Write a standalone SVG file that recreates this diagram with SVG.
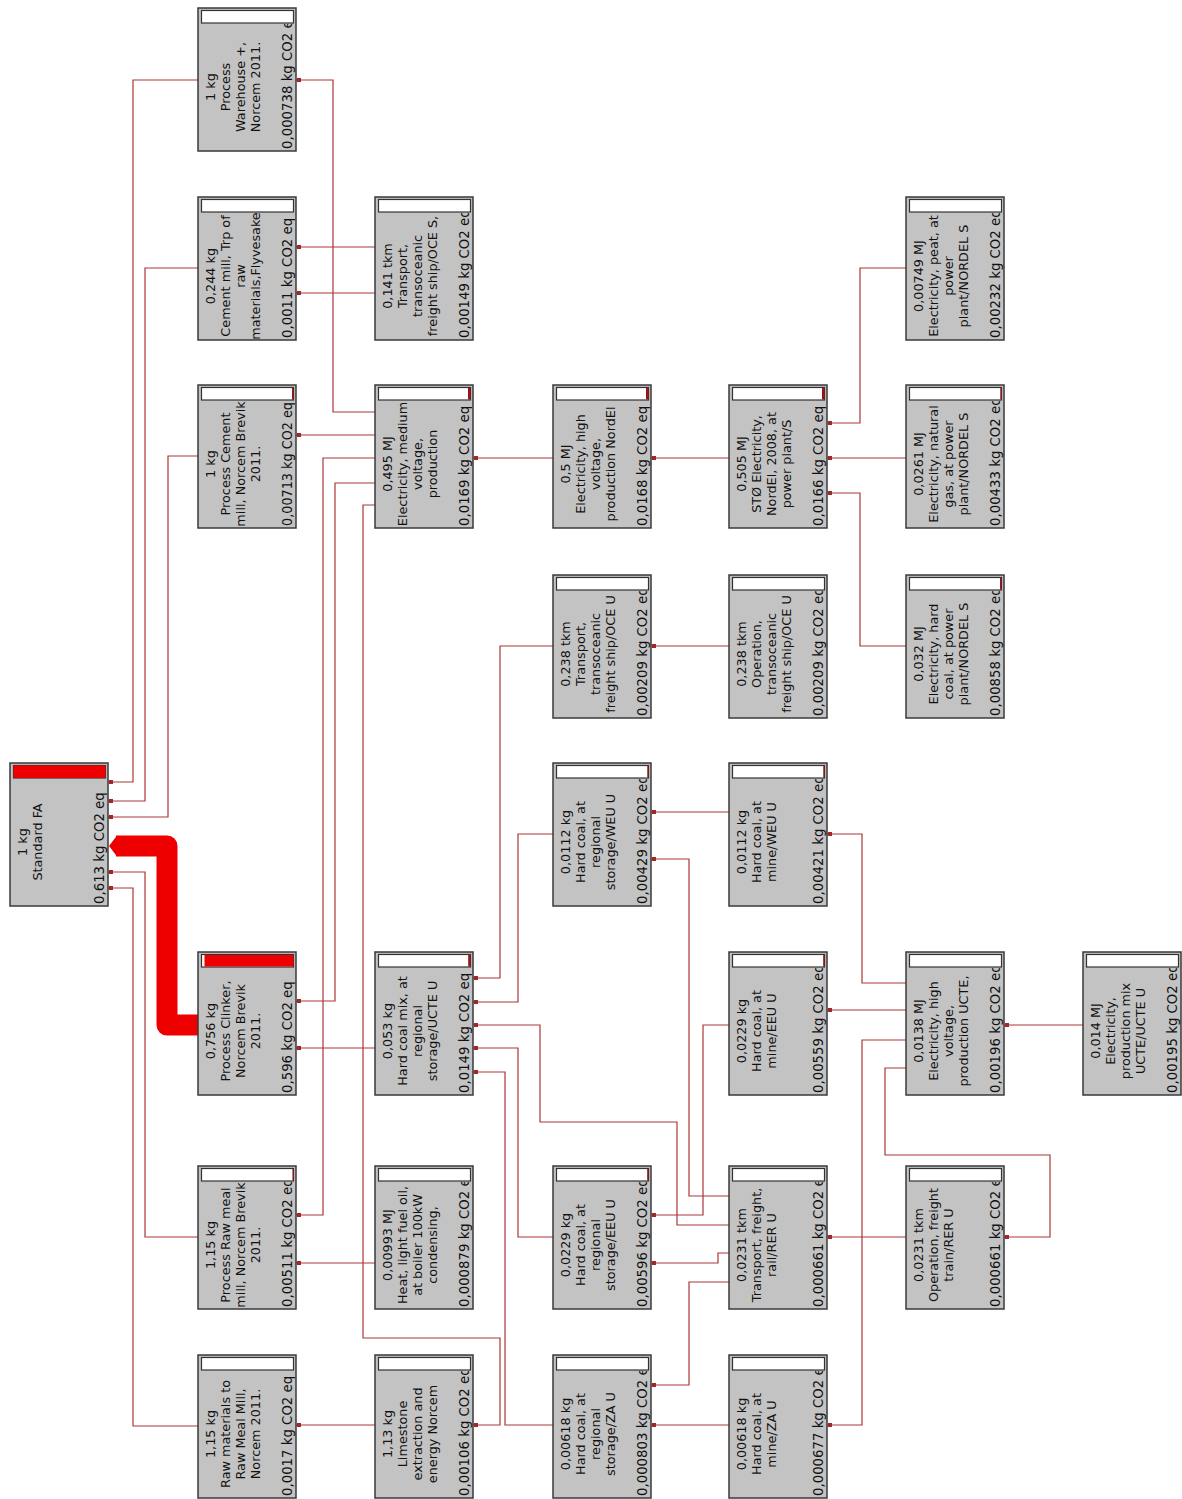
<svg xmlns="http://www.w3.org/2000/svg" width="1182" height="1499" viewBox="0 0 1182 1499">
<style>
.box{fill:#c3c3c3;stroke:#3a3a3a;stroke-width:1.5}
.bar{fill:#fff;stroke:#333;stroke-width:1.2}
.red{fill:#ee0000}
.dr{fill:#9a1515}
.t{font-family:"DejaVu Sans",Verdana,sans-serif;font-size:12.8px;fill:#111;text-anchor:middle}
.l{font-family:"DejaVu Sans",Verdana,sans-serif;font-size:13.3px;fill:#111;text-anchor:start}
.c{fill:none;stroke:#ab3636;stroke-width:1.2;marker-end:url(#dot)}
</style>
<defs>
<clipPath id="clip" clipPathUnits="userSpaceOnUse"><rect x="0" y="16" width="98" height="127"/></clipPath>
<marker id="dot" markerUnits="userSpaceOnUse" markerWidth="4" markerHeight="4" viewBox="0 0 4 4" refX="5" refY="2" orient="auto"><rect width="4" height="4" fill="#a02828"/></marker>
</defs>
<rect width="1182" height="1499" fill="#fff"/>

<g id="connectors">
<path class="c" d="M198 80H133V782H108"/>
<path class="c" d="M198 268H145V801H108"/>
<path class="c" d="M198 456H168V817H108"/>
<path class="c" d="M198 1237H145V872H108"/>
<path class="c" d="M198 1426H133V888H108"/>
<path class="c" d="M375 412H333V80H296"/>
<path class="c" d="M375 247H296"/>
<path class="c" d="M375 293H296"/>
<path class="c" d="M375 435H296"/>
<path class="c" d="M375 458H323V1215H296"/>
<path class="c" d="M375 483H335V1001H296"/>
<path class="c" d="M375 505H363V1338H500V1425H473"/>
<path class="c" d="M375 1048H296"/>
<path class="c" d="M375 1263H296"/>
<path class="c" d="M375 1425H296"/>
<path class="c" d="M553 458H473"/>
<path class="c" d="M729 458H651"/>
<path class="c" d="M906 268H860V423H827"/>
<path class="c" d="M906 458H827"/>
<path class="c" d="M906 646H860V493H827"/>
<path class="c" d="M553 646H500V978H473"/>
<path class="c" d="M729 646H651"/>
<path class="c" d="M553 834H518V1002H473"/>
<path class="c" d="M729 812H651"/>
<path class="c" d="M729 1196H689V859H651"/>
<path class="c" d="M729 1025H703V1215H651"/>
<path class="c" d="M729 1253H718V1263H651"/>
<path class="c" d="M729 1225H677V1122H540V1025H473"/>
<path class="c" d="M553 1237H518V1048H473"/>
<path class="c" d="M553 1425H505V1072H473"/>
<path class="c" d="M729 1282H689V1385H651"/>
<path class="c" d="M729 1425H651"/>
<path class="c" d="M906 983H862V834H827"/>
<path class="c" d="M906 1010H827"/>
<path class="c" d="M906 1040H862V1425H827"/>
<path class="c" d="M906 1068H885V1155H1050V1237H1004"/>
<path class="c" d="M1083 1025H1004"/>
<path class="c" d="M906 1237H827"/>
<path d="M198 1025H167V846H116" fill="none" stroke="#ee0000" stroke-width="21" stroke-linejoin="round"/>
<polygon points="109,846 117,835.5 117,856.5" fill="#ee0000"/>
</g>

<g id="n-fa" transform="translate(10,763)">
<rect class="box" width="98" height="143"/><rect class="bar" x="3.5" y="2.5" width="92" height="12.5"/><rect class="red" x="3.5" y="2.5" width="92" height="12.5"/>
<g clip-path="url(#clip)"><text class="t" transform="rotate(-90)"><tspan x="-79" y="17">1 kg</tspan><tspan x="-79" y="32">Standard FA</tspan></text><text class="l" transform="rotate(-90)" x="-141" y="94">0,613 kg CO2 eq</text></g>
</g>

<g id="n-warehouse" transform="translate(198,8)">
<rect class="box" width="98" height="143"/><rect class="bar" x="3.5" y="2.5" width="92" height="12.5"/>
<g clip-path="url(#clip)"><text class="t" transform="rotate(-90)"><tspan x="-79" y="17">1 kg</tspan><tspan x="-79" y="32">Process</tspan><tspan x="-79" y="47">Warehouse +,</tspan><tspan x="-79" y="62">Norcem 2011.</tspan></text><text class="l" transform="rotate(-90)" x="-141" y="94">0,000738 kg CO2 eq</text></g>
</g>

<g id="n-cementtrp" transform="translate(198,197)">
<rect class="box" width="98" height="143"/><rect class="bar" x="3.5" y="2.5" width="92" height="12.5"/>
<g clip-path="url(#clip)"><text class="t" transform="rotate(-90)"><tspan x="-79" y="17">0,244 kg</tspan><tspan x="-79" y="32">Cement mill, Trp of</tspan><tspan x="-79" y="47">raw</tspan><tspan x="-79" y="62">materials,Flyvesake</tspan></text><text class="l" transform="rotate(-90)" x="-141" y="94">0,0011 kg CO2 eq</text></g>
</g>

<g id="n-proccement" transform="translate(198,385)">
<rect class="box" width="98" height="143"/><rect class="bar" x="3.5" y="2.5" width="92" height="12.5"/><rect class="dr" x="94" y="3" width="1.5" height="11.5"/>
<g clip-path="url(#clip)"><text class="t" transform="rotate(-90)"><tspan x="-79" y="17">1 kg</tspan><tspan x="-79" y="32">Process Cement</tspan><tspan x="-79" y="47">mill, Norcem Brevik</tspan><tspan x="-79" y="62">2011.</tspan></text><text class="l" transform="rotate(-90)" x="-141" y="94" textLength="124" lengthAdjust="spacingAndGlyphs">0,00713 kg CO2 eq</text></g>
</g>

<g id="n-clinker" transform="translate(198,952)">
<rect class="box" width="98" height="143"/><rect class="bar" x="3.5" y="2.5" width="92" height="12.5"/><rect class="red" x="6.5" y="3" width="89" height="11.5"/>
<g clip-path="url(#clip)"><text class="t" transform="rotate(-90)"><tspan x="-79" y="17">0,756 kg</tspan><tspan x="-79" y="32">Process Clinker,</tspan><tspan x="-79" y="47">Norcem Brevik</tspan><tspan x="-79" y="62">2011.</tspan></text><text class="l" transform="rotate(-90)" x="-141" y="94">0,596 kg CO2 eq</text></g>
</g>

<g id="n-rawmeal" transform="translate(198,1166)">
<rect class="box" width="98" height="143"/><rect class="bar" x="3.5" y="2.5" width="92" height="12.5"/><rect class="dr" x="94.5" y="3" width="1" height="11.5"/>
<g clip-path="url(#clip)"><text class="t" transform="rotate(-90)"><tspan x="-79" y="17">1,15 kg</tspan><tspan x="-79" y="32">Process Raw meal</tspan><tspan x="-79" y="47">mill, Norcem Brevik</tspan><tspan x="-79" y="62">2011.</tspan></text><text class="l" transform="rotate(-90)" x="-141" y="94">0,00511 kg CO2 eq</text></g>
</g>

<g id="n-rawmat" transform="translate(198,1355)">
<rect class="box" width="98" height="143"/><rect class="bar" x="3.5" y="2.5" width="92" height="12.5"/>
<g clip-path="url(#clip)"><text class="t" transform="rotate(-90)"><tspan x="-79" y="17">1,15 kg</tspan><tspan x="-79" y="32">Raw materials to</tspan><tspan x="-79" y="47">Raw Meal Mill,</tspan><tspan x="-79" y="62">Norcem 2011.</tspan></text><text class="l" transform="rotate(-90)" x="-141" y="94">0,0017 kg CO2 eq</text></g>
</g>

<g id="n-transpoces" transform="translate(375,197)">
<rect class="box" width="98" height="143"/><rect class="bar" x="3.5" y="2.5" width="92" height="12.5"/>
<g clip-path="url(#clip)"><text class="t" transform="rotate(-90)"><tspan x="-79" y="17">0,141 tkm</tspan><tspan x="-79" y="32">Transport,</tspan><tspan x="-79" y="47">transoceanic</tspan><tspan x="-79" y="62">freight ship/OCE S,</tspan></text><text class="l" transform="rotate(-90)" x="-141" y="94">0,00149 kg CO2 eq</text></g>
</g>

<g id="n-elecmed" transform="translate(375,385)">
<rect class="box" width="98" height="143"/><rect class="bar" x="3.5" y="2.5" width="92" height="12.5"/><rect class="dr" x="93" y="3" width="2.6" height="11.5"/>
<g clip-path="url(#clip)"><text class="t" transform="rotate(-90)"><tspan x="-79" y="17">0,495 MJ</tspan><tspan x="-79" y="32">Electricity, medium</tspan><tspan x="-79" y="47">voltage,</tspan><tspan x="-79" y="62">production</tspan></text><text class="l" transform="rotate(-90)" x="-141" y="94">0,0169 kg CO2 eq</text></g>
</g>

<g id="n-hcmix" transform="translate(375,952)">
<rect class="box" width="98" height="143"/><rect class="bar" x="3.5" y="2.5" width="92" height="12.5"/><rect class="dr" x="93.2" y="3" width="2.3" height="11.5"/>
<g clip-path="url(#clip)"><text class="t" transform="rotate(-90)"><tspan x="-79" y="17">0,053 kg</tspan><tspan x="-79" y="32">Hard coal mix, at</tspan><tspan x="-79" y="47">regional</tspan><tspan x="-79" y="62">storage/UCTE U</tspan></text><text class="l" transform="rotate(-90)" x="-141" y="94">0,0149 kg CO2 eq</text></g>
</g>

<g id="n-heat" transform="translate(375,1166)">
<rect class="box" width="98" height="143"/><rect class="bar" x="3.5" y="2.5" width="92" height="12.5"/>
<g clip-path="url(#clip)"><text class="t" transform="rotate(-90)"><tspan x="-79" y="17">0,00993 MJ</tspan><tspan x="-79" y="32">Heat, light fuel oil,</tspan><tspan x="-79" y="47">at boiler 100kW</tspan><tspan x="-79" y="62">condensing,</tspan></text><text class="l" transform="rotate(-90)" x="-141" y="94">0,000879 kg CO2 eq</text></g>
</g>

<g id="n-limestone" transform="translate(375,1355)">
<rect class="box" width="98" height="143"/><rect class="bar" x="3.5" y="2.5" width="92" height="12.5"/>
<g clip-path="url(#clip)"><text class="t" transform="rotate(-90)"><tspan x="-79" y="17">1,13 kg</tspan><tspan x="-79" y="32">Limestone</tspan><tspan x="-79" y="47">extraction and</tspan><tspan x="-79" y="62">energy Norcem</tspan></text><text class="l" transform="rotate(-90)" x="-141" y="94">0,00106 kg CO2 eq</text></g>
</g>

<g id="n-elechvnordel" transform="translate(553,385)">
<rect class="box" width="98" height="143"/><rect class="bar" x="3.5" y="2.5" width="92" height="12.5"/><rect class="dr" x="93" y="3" width="2.6" height="11.5"/>
<g clip-path="url(#clip)"><text class="t" transform="rotate(-90)"><tspan x="-79" y="17">0,5 MJ</tspan><tspan x="-79" y="32">Electricity, high</tspan><tspan x="-79" y="47">voltage,</tspan><tspan x="-79" y="62">production NordEl</tspan></text><text class="l" transform="rotate(-90)" x="-141" y="94">0,0168 kg CO2 eq</text></g>
</g>

<g id="n-transpoceu" transform="translate(553,575)">
<rect class="box" width="98" height="143"/><rect class="bar" x="3.5" y="2.5" width="92" height="12.5"/>
<g clip-path="url(#clip)"><text class="t" transform="rotate(-90)"><tspan x="-79" y="17">0,238 tkm</tspan><tspan x="-79" y="32">Transport,</tspan><tspan x="-79" y="47">transoceanic</tspan><tspan x="-79" y="62">freight ship/OCE U</tspan></text><text class="l" transform="rotate(-90)" x="-141" y="94">0,00209 kg CO2 eq</text></g>
</g>

<g id="n-weureg" transform="translate(553,763)">
<rect class="box" width="98" height="143"/><rect class="bar" x="3.5" y="2.5" width="92" height="12.5"/><rect class="dr" x="94.3" y="3" width="1.2" height="11.5"/>
<g clip-path="url(#clip)"><text class="t" transform="rotate(-90)"><tspan x="-79" y="17">0,0112 kg</tspan><tspan x="-79" y="32">Hard coal, at</tspan><tspan x="-79" y="47">regional</tspan><tspan x="-79" y="62">storage/WEU U</tspan></text><text class="l" transform="rotate(-90)" x="-141" y="94">0,00429 kg CO2 eq</text></g>
</g>

<g id="n-eeureg" transform="translate(553,1166)">
<rect class="box" width="98" height="143"/><rect class="bar" x="3.5" y="2.5" width="92" height="12.5"/><rect class="dr" x="94.2" y="3" width="1.3" height="11.5"/>
<g clip-path="url(#clip)"><text class="t" transform="rotate(-90)"><tspan x="-79" y="17">0,0229 kg</tspan><tspan x="-79" y="32">Hard coal, at</tspan><tspan x="-79" y="47">regional</tspan><tspan x="-79" y="62">storage/EEU U</tspan></text><text class="l" transform="rotate(-90)" x="-141" y="94">0,00596 kg CO2 eq</text></g>
</g>

<g id="n-zareg" transform="translate(553,1355)">
<rect class="box" width="98" height="143"/><rect class="bar" x="3.5" y="2.5" width="92" height="12.5"/>
<g clip-path="url(#clip)"><text class="t" transform="rotate(-90)"><tspan x="-79" y="17">0,00618 kg</tspan><tspan x="-79" y="32">Hard coal, at</tspan><tspan x="-79" y="47">regional</tspan><tspan x="-79" y="62">storage/ZA U</tspan></text><text class="l" transform="rotate(-90)" x="-141" y="94">0,000803 kg CO2 eq</text></g>
</g>

<g id="n-sto" transform="translate(729,385)">
<rect class="box" width="98" height="143"/><rect class="bar" x="3.5" y="2.5" width="92" height="12.5"/><rect class="dr" x="93" y="3" width="2.5" height="11.5"/>
<g clip-path="url(#clip)"><text class="t" transform="rotate(-90)"><tspan x="-79" y="17">0,505 MJ</tspan><tspan x="-79" y="32">STØ Electricity,</tspan><tspan x="-79" y="47">NordEl, 2008, at</tspan><tspan x="-79" y="62">power plant/S</tspan></text><text class="l" transform="rotate(-90)" x="-141" y="94">0,0166 kg CO2 eq</text></g>
</g>

<g id="n-opoceu" transform="translate(729,575)">
<rect class="box" width="98" height="143"/><rect class="bar" x="3.5" y="2.5" width="92" height="12.5"/>
<g clip-path="url(#clip)"><text class="t" transform="rotate(-90)"><tspan x="-79" y="17">0,238 tkm</tspan><tspan x="-79" y="32">Operation,</tspan><tspan x="-79" y="47">transoceanic</tspan><tspan x="-79" y="62">freight ship/OCE U</tspan></text><text class="l" transform="rotate(-90)" x="-141" y="94">0,00209 kg CO2 eq</text></g>
</g>

<g id="n-mineweu" transform="translate(729,763)">
<rect class="box" width="98" height="143"/><rect class="bar" x="3.5" y="2.5" width="92" height="12.5"/><rect class="dr" x="94.3" y="3" width="1.2" height="11.5"/>
<g clip-path="url(#clip)"><text class="t" transform="rotate(-90)"><tspan x="-79" y="17">0,0112 kg</tspan><tspan x="-79" y="32">Hard coal, at</tspan><tspan x="-79" y="47">mine/WEU U</tspan></text><text class="l" transform="rotate(-90)" x="-141" y="94">0,00421 kg CO2 eq</text></g>
</g>

<g id="n-mineeeu" transform="translate(729,952)">
<rect class="box" width="98" height="143"/><rect class="bar" x="3.5" y="2.5" width="92" height="12.5"/><rect class="dr" x="94.2" y="3" width="1.3" height="11.5"/>
<g clip-path="url(#clip)"><text class="t" transform="rotate(-90)"><tspan x="-79" y="17">0,0229 kg</tspan><tspan x="-79" y="32">Hard coal, at</tspan><tspan x="-79" y="47">mine/EEU U</tspan></text><text class="l" transform="rotate(-90)" x="-141" y="94">0,00559 kg CO2 eq</text></g>
</g>

<g id="n-transprail" transform="translate(729,1166)">
<rect class="box" width="98" height="143"/><rect class="bar" x="3.5" y="2.5" width="92" height="12.5"/>
<g clip-path="url(#clip)"><text class="t" transform="rotate(-90)"><tspan x="-79" y="17">0,0231 tkm</tspan><tspan x="-79" y="32">Transport, freight,</tspan><tspan x="-79" y="47">rail/RER U</tspan></text><text class="l" transform="rotate(-90)" x="-141" y="94">0,000661 kg CO2 eq</text></g>
</g>

<g id="n-mineza" transform="translate(729,1355)">
<rect class="box" width="98" height="143"/><rect class="bar" x="3.5" y="2.5" width="92" height="12.5"/>
<g clip-path="url(#clip)"><text class="t" transform="rotate(-90)"><tspan x="-79" y="17">0,00618 kg</tspan><tspan x="-79" y="32">Hard coal, at</tspan><tspan x="-79" y="47">mine/ZA U</tspan></text><text class="l" transform="rotate(-90)" x="-141" y="94">0,000677 kg CO2 eq</text></g>
</g>

<g id="n-peat" transform="translate(906,197)">
<rect class="box" width="98" height="143"/><rect class="bar" x="3.5" y="2.5" width="92" height="12.5"/>
<g clip-path="url(#clip)"><text class="t" transform="rotate(-90)"><tspan x="-79" y="17">0,00749 MJ</tspan><tspan x="-79" y="32">Electricity, peat, at</tspan><tspan x="-79" y="47">power</tspan><tspan x="-79" y="62">plant/NORDEL S</tspan></text><text class="l" transform="rotate(-90)" x="-141" y="94">0,00232 kg CO2 eq</text></g>
</g>

<g id="n-natgas" transform="translate(906,385)">
<rect class="box" width="98" height="143"/><rect class="bar" x="3.5" y="2.5" width="92" height="12.5"/><rect class="dr" x="94.3" y="3" width="1.2" height="11.5"/>
<g clip-path="url(#clip)"><text class="t" transform="rotate(-90)"><tspan x="-79" y="17">0,0261 MJ</tspan><tspan x="-79" y="32">Electricity, natural</tspan><tspan x="-79" y="47">gas, at power</tspan><tspan x="-79" y="62">plant/NORDEL S</tspan></text><text class="l" transform="rotate(-90)" x="-141" y="94">0,00433 kg CO2 eq</text></g>
</g>

<g id="n-hcpower" transform="translate(906,575)">
<rect class="box" width="98" height="143"/><rect class="bar" x="3.5" y="2.5" width="92" height="12.5"/><rect class="dr" x="94" y="3" width="1.5" height="11.5"/>
<g clip-path="url(#clip)"><text class="t" transform="rotate(-90)"><tspan x="-79" y="17">0,032 MJ</tspan><tspan x="-79" y="32">Electricity, hard</tspan><tspan x="-79" y="47">coal, at power</tspan><tspan x="-79" y="62">plant/NORDEL S</tspan></text><text class="l" transform="rotate(-90)" x="-141" y="94">0,00858 kg CO2 eq</text></g>
</g>

<g id="n-elecucte" transform="translate(906,952)">
<rect class="box" width="98" height="143"/><rect class="bar" x="3.5" y="2.5" width="92" height="12.5"/>
<g clip-path="url(#clip)"><text class="t" transform="rotate(-90)"><tspan x="-79" y="17">0,0138 MJ</tspan><tspan x="-79" y="32">Electricity, high</tspan><tspan x="-79" y="47">voltage,</tspan><tspan x="-79" y="62">production UCTE,</tspan></text><text class="l" transform="rotate(-90)" x="-141" y="94">0,00196 kg CO2 eq</text></g>
</g>

<g id="n-opfreight" transform="translate(906,1166)">
<rect class="box" width="98" height="143"/><rect class="bar" x="3.5" y="2.5" width="92" height="12.5"/>
<g clip-path="url(#clip)"><text class="t" transform="rotate(-90)"><tspan x="-79" y="17">0,0231 tkm</tspan><tspan x="-79" y="32">Operation, freight</tspan><tspan x="-79" y="47">train/RER U</tspan></text><text class="l" transform="rotate(-90)" x="-141" y="94">0,000661 kg CO2 eq</text></g>
</g>

<g id="n-prodmix" transform="translate(1083,952)">
<rect class="box" width="98" height="143"/><rect class="bar" x="3.5" y="2.5" width="92" height="12.5"/>
<g clip-path="url(#clip)"><text class="t" transform="rotate(-90)"><tspan x="-79" y="17">0,014 MJ</tspan><tspan x="-79" y="32">Electricity,</tspan><tspan x="-79" y="47">production mix</tspan><tspan x="-79" y="62">UCTE/UCTE U</tspan></text><text class="l" transform="rotate(-90)" x="-141" y="94">0,00195 kg CO2 eq</text></g>
</g>
</svg>
